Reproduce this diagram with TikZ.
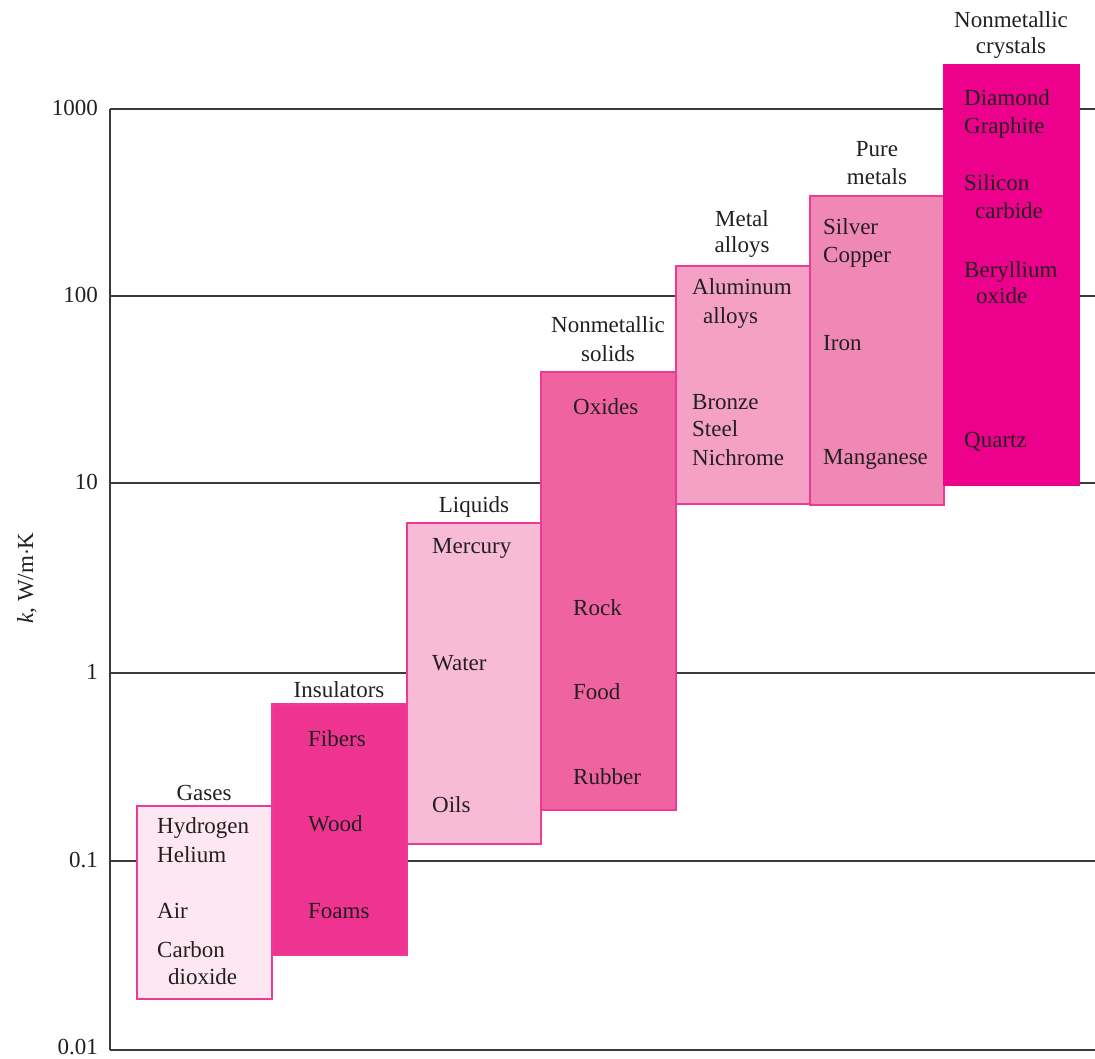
\documentclass[tikz,border=0pt]{standalone}
\usepackage{fontspec}
\setmainfont{Liberation Serif}
\definecolor{textc}{HTML}{231F20}
\definecolor{axisc}{HTML}{3A3A3A}
\definecolor{edgec}{HTML}{EE3A96}
\definecolor{cGas}{HTML}{FDE7F1}
\definecolor{cIns}{HTML}{EE3391}
\definecolor{cLiq}{HTML}{F7BBD6}
\definecolor{cSol}{HTML}{EF64A0}
\definecolor{cAll}{HTML}{F4A1C5}
\definecolor{cPur}{HTML}{F088B5}
\definecolor{cCry}{HTML}{EC008C}
\begin{document}
\begin{tikzpicture}[x=1pt,y=-1pt,
  box/.style={draw=edgec, line width=1.3pt, anchor=north west, inner sep=0pt, outer sep=0pt},
  txt/.style={anchor=base west, inner sep=0pt, text=textc, font=\fontsize{23}{28}\selectfont},
  hdr/.style={anchor=base, inner sep=0pt, text=textc, font=\fontsize{23}{28}\selectfont},
  tick/.style={anchor=base east, inner sep=0pt, text=textc, font=\fontsize{23}{28}\selectfont},
  gridline/.style={draw=axisc, line width=1.4pt}]
\useasboundingbox (0,0) rectangle (1095,1058);
% axis
\coordinate (ax0) at (110,109);
\coordinate (ax1) at (110,1050);
\foreach \yy/\nm in {109/a,296/b,483/c,673/d,861/e,1050/f}{
  \coordinate (gl\nm) at (110,\yy);
  \coordinate (gr\nm) at (1095,\yy);
  \draw[gridline] (gl\nm) -- (gr\nm);
}
\draw[gridline] (ax0) -- (ax1);
% tick labels
\node[tick] (t1000) at (98,115) {1000};
\node[tick] (t100) at (98,302) {100};
\node[tick] (t10) at (98,489) {10};
\node[tick] (t1) at (98,679) {1};
\node[tick] (t01) at (98,867) {0.1};
\node[tick] (t001) at (98,1054) {0.01};
\node[anchor=base, rotate=90, inner sep=0pt, text=textc, font=\fontsize{23}{28}\selectfont] (ylab) at (33,578) {\textit{k}, W/m$\cdot$K};
% boxes
\node[box, fill=cGas, minimum width=135pt, minimum height=193pt] (gases) at (137,806) {};
\node[box, fill=cIns, minimum width=135pt, minimum height=251pt] (ins) at (272,704) {};
\node[box, fill=cLiq, minimum width=134pt, minimum height=321pt] (liq) at (407,523) {};
\node[box, fill=cSol, minimum width=135pt, minimum height=438pt] (sol) at (541,372) {};
\node[box, fill=cAll, minimum width=134pt, minimum height=238pt] (all) at (676,266) {};
\node[box, fill=cPur, minimum width=134pt, minimum height=309pt] (pur) at (810,196) {};
\node[box, fill=cCry, minimum width=135pt, minimum height=420pt, draw=cCry] (cry) at (944,65) {};
% headers
\node[hdr] (hgas) at (204,800) {Gases};
\node[hdr] (hins) at (339,697) {Insulators};
\node[hdr] (hliq) at (474,512) {Liquids};
\node[hdr] (hsol1) at (608,332) {Nonmetallic};
\node[hdr] (hsol2) at (608,361) {solids};
\node[hdr] (hall1) at (742,226) {Metal};
\node[hdr] (hall2) at (742,252) {alloys};
\node[hdr] (hpur1) at (877,156) {Pure};
\node[hdr] (hpur2) at (877,184) {metals};
\node[hdr] (hcry1) at (1011,27) {Nonmetallic};
\node[hdr] (hcry2) at (1011,53) {crystals};
% gases
\node[txt] (g1) at (157,833) {Hydrogen};
\node[txt] (g2) at (157,862) {Helium};
\node[txt] (g3) at (157,918) {Air};
\node[txt] (g4) at (157,957) {Carbon};
\node[txt] (g5) at (168,984) {dioxide};
% insulators
\node[txt] (i1) at (308,746) {Fibers};
\node[txt] (i2) at (308,831) {Wood};
\node[txt] (i3) at (308,918) {Foams};
% liquids
\node[txt] (l1) at (432,553) {Mercury};
\node[txt] (l2) at (432,670) {Water};
\node[txt] (l3) at (432,812) {Oils};
% solids
\node[txt] (s1) at (573,414) {Oxides};
\node[txt] (s2) at (573,615) {Rock};
\node[txt] (s3) at (573,699) {Food};
\node[txt] (s4) at (573,784) {Rubber};
% alloys
\node[txt] (a1) at (692,294) {Aluminum};
\node[txt] (a2) at (703,323) {alloys};
\node[txt] (a3) at (692,409) {Bronze};
\node[txt] (a4) at (692,436) {Steel};
\node[txt] (a5) at (692,465) {Nichrome};
% pure metals
\node[txt] (p1) at (823,234) {Silver};
\node[txt] (p2) at (823,262) {Copper};
\node[txt] (p3) at (823,350) {Iron};
\node[txt] (p4) at (823,464) {Manganese};
% crystals
\node[txt] (c1) at (964,105) {Diamond};
\node[txt] (c2) at (964,133) {Graphite};
\node[txt] (c3) at (964,190) {Silicon};
\node[txt] (c4) at (975,218) {carbide};
\node[txt] (c5) at (964,277) {Beryllium};
\node[txt] (c6) at (976,303) {oxide};
\node[txt] (c7) at (964,447) {Quartz};
\end{tikzpicture}
\end{document}
